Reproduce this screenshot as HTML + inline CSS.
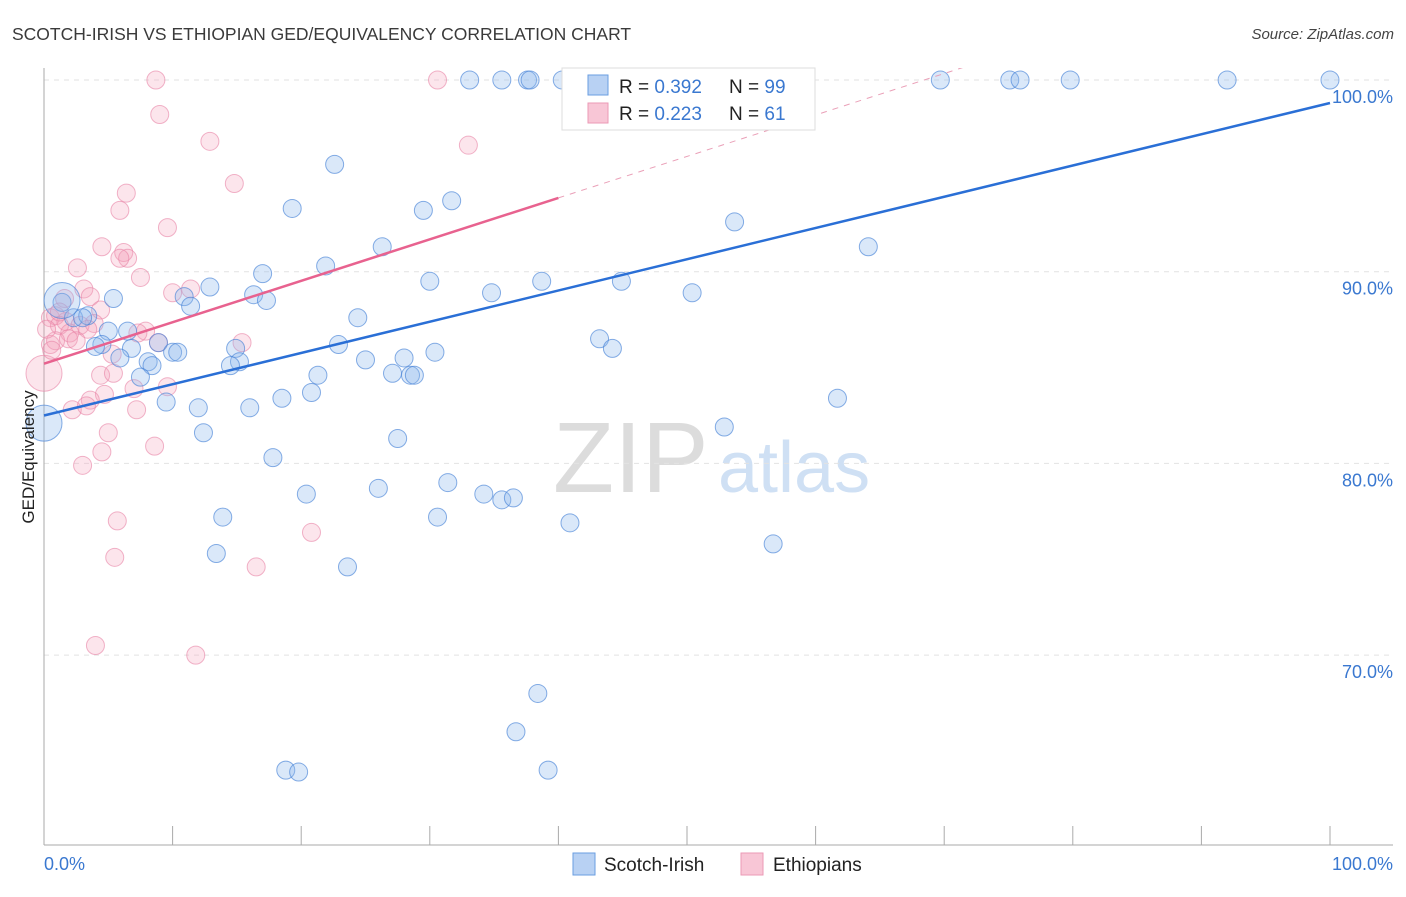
<!DOCTYPE html>
<html><head><meta charset="utf-8">
<style>
body{margin:0;background:#fff;font-family:"Liberation Sans",sans-serif;}
svg text{font-family:"Liberation Sans",sans-serif;}
</style></head>
<body>
<svg id="chart" width="1406" height="892" viewBox="0 0 1406 892" xmlns="http://www.w3.org/2000/svg">
<text x="12" y="40" font-size="17.5" fill="#3a3a3a">SCOTCH-IRISH VS ETHIOPIAN GED/EQUIVALENCY CORRELATION CHART</text>
<text x="1394" y="39" font-size="15" fill="#444" font-style="italic" text-anchor="end">Source: ZipAtlas.com</text>
<g>
<text x="553" y="492" font-size="100" fill="#dcdcdc" font-family="Liberation Serif, serif">ZIP</text>
<text x="718" y="492" font-size="72" fill="#cfe0f4">atlas</text>
</g>
<g id="grid"></g>
<g id="axes"></g>
<g id="pinkPts"></g>
<g id="bluePts"></g>
<g id="trends"></g>
<text transform="translate(34,457) rotate(-90)" font-size="17" fill="#222" text-anchor="middle">GED/Equivalency</text>
<g>
<rect x="562" y="68" width="253" height="62" fill="#fff" stroke="#ddd"/>
<rect x="588" y="75" width="20" height="20" fill="#b8d1f3" stroke="#6a9ee0"/>
<rect x="588" y="103" width="20" height="20" fill="#f8c6d6" stroke="#eb9ab6"/>
<text x="619" y="93" font-size="19" fill="#222">R = <tspan fill="#3a78d0">0.392</tspan></text>
<text x="729" y="93" font-size="19" fill="#222">N = <tspan fill="#3a78d0"> 99</tspan></text>
<text x="619" y="120" font-size="19" fill="#222">R = <tspan fill="#3a78d0">0.223</tspan></text>
<text x="729" y="120" font-size="19" fill="#222">N = <tspan fill="#3a78d0"> 61</tspan></text>
</g>
<g>
<rect x="573" y="853" width="22" height="22" fill="#b8d1f3" stroke="#6a9ee0"/>
<text x="604" y="871" font-size="19" fill="#222">Scotch-Irish</text>
<rect x="741" y="853" width="22" height="22" fill="#f8c6d6" stroke="#eb9ab6"/>
<text x="773" y="871" font-size="19" fill="#222">Ethiopians</text>
</g>
</svg>
<script>
const yTicks=[70,80,90,100];
const yTickLabels=["70.0%","80.0%","90.0%","100.0%"];
const xTicks=[0,10,20,30,40,50,60,70,80,90,100];
const blueX=[33.1,35.6,37.6,37.8,40.3,42.5,51.5,56.1,69.7,75.1,75.9,79.8,92.0,100,22.6,19.3,29.5,31.7,53.7,64.1,26.3,21.9,17.0,30.0,38.7,44.9,34.8,50.4,12.9,16.3,17.3,10.9,11.4,5.4,1.4,2.3,3.4,3.0,24.4,5.0,6.5,43.2,44.2,22.9,30.4,4.5,4.0,6.8,8.9,10.0,10.4,14.9,5.9,8.1,8.4,25.0,28.0,15.2,14.5,27.1,28.5,28.8,21.3,7.5,20.8,18.5,9.5,12.0,16.0,61.7,12.4,27.5,52.9,17.8,26.0,31.4,20.4,34.2,35.6,36.5,13.9,30.6,40.9,13.4,56.7,23.6,38.4,36.7,18.8,19.8,39.2,0,1.4];
const blueY=[100,100,100,100,100,100,100,100,100,100,100,100,100,100,95.6,93.3,93.2,93.7,92.6,91.3,91.3,90.3,89.9,89.5,89.5,89.5,88.9,88.9,89.2,88.8,88.5,88.7,88.2,88.6,88.4,87.6,87.7,87.6,87.6,86.9,86.9,86.5,86.0,86.2,85.8,86.2,86.1,86.0,86.3,85.8,85.8,86.0,85.5,85.3,85.1,85.4,85.5,85.3,85.1,84.7,84.6,84.6,84.6,84.5,83.7,83.4,83.2,82.9,82.9,83.4,81.6,81.3,81.9,80.3,78.7,79.0,78.4,78.4,78.1,78.2,77.2,77.2,76.9,75.3,75.8,74.6,68.0,66.0,64.0,63.9,64.0,82.1,88.5];
const blueBig=[91,92];
const pinkX=[8.7,30.6,9.0,12.9,33.0,14.8,6.4,5.9,9.6,4.5,6.2,6.5,5.9,2.6,7.5,3.1,11.4,10.0,1.6,3.6,4.4,0.5,0.9,1.7,2.8,3.9,1.2,2.0,7.9,7.3,15.4,0.5,8.9,5.3,4.4,5.4,7.0,9.6,4.7,3.6,2.2,3.3,7.2,5.0,8.6,4.5,3.0,5.7,20.8,5.5,16.5,4.0,11.8,0,0.9,0.2,0.6,1.9,1.2,3.4,2.5];
const pinkY=[100,100,98.2,96.8,96.6,94.6,94.1,93.2,92.3,91.3,91.0,90.7,90.7,90.2,89.7,89.1,89.1,88.9,88.6,88.7,88.0,87.6,87.7,87.4,87.2,87.3,87.2,86.8,86.9,86.8,86.3,86.2,86.3,85.7,84.6,84.7,83.9,84.0,83.6,83.3,82.8,83.0,82.8,81.6,80.9,80.6,79.9,77.0,76.4,75.1,74.6,70.5,70.0,84.7,86.4,87.0,85.9,86.5,87.9,87.0,86.4];
const pinkBig=[53];
const blueTrendX=[0,100], blueTrendY=[82.5,98.8];
const pinkTrendX=[0,40], pinkTrendY=[85.2,93.85];
const pinkDashX=[40,100];

const X0=44,X1=1330,YTOP=80,PX10=19.17;
const xs=v=>X0+(X1-X0)*v/100;
const ys=v=>YTOP+(100-v)*PX10;
const NS="http://www.w3.org/2000/svg";
function mk(t,a,p){const e=document.createElementNS(NS,t);for(const k in a)e.setAttribute(k,a[k]);p.appendChild(e);return e;}
const grid=document.getElementById('grid'),axes=document.getElementById('axes');
yTicks.forEach((t,i)=>{
 const g=mk('line',{x1:44,x2:1393,y1:ys(t),y2:ys(t),stroke:'#e2e2e2','stroke-dasharray':'5,5'},grid);
 
 
 const l=mk('text',{x:1393,y:ys(t)+23,'font-size':18,fill:'#3a78d0','text-anchor':'end'},axes);
 
 
 l.textContent=yTickLabels[i];
});
const ax=mk('line',{x1:44,x2:44,y1:68,y2:845,stroke:'#aaa'},axes);


const bx=mk('line',{x1:44,x2:1393,y1:845,y2:845,stroke:'#aaa'},axes);


xTicks.forEach(t=>{
 const k=mk('line',{x1:xs(t),x2:xs(t),y1:826,y2:845,stroke:'#aaa'},axes);
 
 
});
const xl0=mk('text',{x:44,y:870,'font-size':18,fill:'#3a78d0'},axes);


xl0.textContent='0.0%';
const xl1=mk('text',{x:1393,y:870,'font-size':18,fill:'#3a78d0','text-anchor':'end'},axes);


xl1.textContent='100.0%';
function pts(X,Y,big,g,fill,stroke,name){
 X.forEach((v,i)=>{
  const c=mk('circle',{cx:xs(v),cy:ys(Y[i]),r:big.includes(i)?18:9,fill:fill,stroke:stroke,'stroke-width':1},g);
  
  
 });
}
pts(pinkX,pinkY,pinkBig,document.getElementById('pinkPts'),'rgba(243,160,188,0.28)','rgba(232,130,165,0.6)','ethiopians-point');
pts(blueX,blueY,blueBig,document.getElementById('bluePts'),'rgba(140,182,235,0.32)','rgba(70,130,215,0.65)','scotch-irish-point');
const tr=document.getElementById('trends');
const slope=(pinkTrendY[1]-pinkTrendY[0])/(pinkTrendX[1]-pinkTrendX[0]);
const dEndY=pinkTrendY[0]+slope*pinkDashX[1];
const clip=mk('clipPath',{id:'plotclip'},tr);
mk('rect',{x:44,y:68,width:1349,height:777},clip);
const pd=mk('line',{x1:xs(pinkDashX[0]),y1:ys(pinkTrendY[0]+slope*pinkDashX[0]),x2:xs(pinkDashX[1]),y2:ys(dEndY),stroke:'#eaa0b8','stroke-dasharray':'6,6','stroke-width':1,'clip-path':'url(#plotclip)'},tr);


const pl=mk('line',{x1:xs(pinkTrendX[0]),y1:ys(pinkTrendY[0]),x2:xs(pinkTrendX[1]),y2:ys(pinkTrendY[1]),stroke:'#e8628f','stroke-width':2.5},tr);


const bl=mk('line',{x1:xs(blueTrendX[0]),y1:ys(blueTrendY[0]),x2:xs(blueTrendX[1]),y2:ys(blueTrendY[1]),stroke:'#2a6fd6','stroke-width':2.5},tr);


</script>
</body></html>
